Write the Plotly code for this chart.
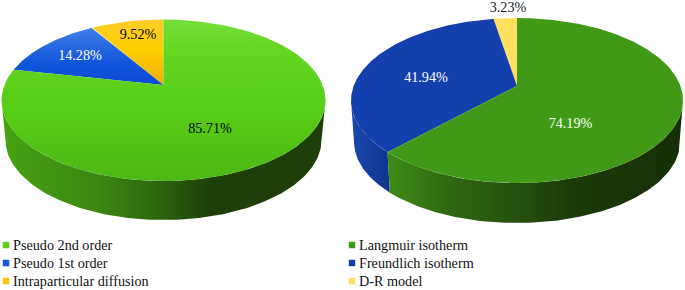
import numpy as np
import plotly.graph_objects as go

# --- data -------------------------------------------------------------
kinetic_labels = ["Pseudo 2nd order", "Pseudo 1st order", "Intraparticular diffusion"]
kinetic_values = [85.71, 14.28, 9.52]
isotherm_labels = ["Langmuir isotherm", "Freundlich isotherm", "D-R model"]
isotherm_values = [74.19, 41.94, 3.23]
kinetic_text_colors = ["black", "white", "black"]
isotherm_text_colors = ["white", "white", "#222222"]

# --- styles and layout -------------------------------------------------
SERIF = "Liberation Serif"
FONT = 14.2
kinetic_geom = dict(cx=163.5, a=162, cy=100.25, b=80.75, apex=85, bcx=163.5, ba=158, bcy=140, bb=80)
isotherm_geom = dict(cx=517, a=166, cy=100.5, b=82.5, apex=86, bcx=517, ba=163, bcy=142, bb=81)

# vertical fill gradients run from the bottom of a shape to its top
kinetic_top = [
    [[0, "#4CB814"], [0.4, "#57CC16"], [0.8, "#62D620"], [1, "#75DE3A"]],
    [[0, "#0C4CD2"], [0.4, "#1256DC"], [1, "#3F7EE8"]],
    [[0, "#F0AC08"], [0.55, "#FFD000"], [1, "#FFCB2A"]],
]
isotherm_top = ["#419A17", "#1440AE", "#FFDF5E"]
kinetic_swatch = ["#5FCF22", "#1A55D8", "#FFC410"]
isotherm_swatch = ["#3F9A18", "#1440AE", "#FFDF5E"]
kinetic_side = {0: [[0, "#46A312"], [0.3, "#3C8612"], [0.46, "#2E6C0E"], [0.64, "#1F3F09"], [1, "#1E3E08"]]}
isotherm_side = {
    0: [[0, "#3E8C16"], [0.2, "#2F6A12"], [0.44, "#25500E"], [0.63, "#1A3A08"], [1, "#152F06"]],
    1: [[0, "#1A48B0"], [1, "#10348C"]],
}
label_positions_k = [(210, 129.5), (80, 56), (138, 35)]
label_positions_i = [(570.5, 124), (426, 78), (508, 8)]

fig = go.Figure()


def boundary_angles(values, g):
    """Cumulative shares -> ellipse parameter, anti-clockwise from 12 o'clock.
    Perspective moves the disc centre to the apex, which warps the angles."""
    k = (g["cy"] - g["apex"]) / g["b"]
    p = (1 - np.sqrt(1 - k * k)) / k
    r = (1 - p) / (1 + p)
    shares = np.cumsum(list(values)[::-1]) / sum(values)
    th = np.concatenate([[0], shares]) * 2 * np.pi
    return 2 * np.arctan2(r * np.sin(th / 2), np.cos(th / 2)) % (2 * np.pi + 1e-9)


def top_xy(phi, g):
    return g["cx"] - g["a"] * np.sin(phi), g["cy"] - g["b"] * np.cos(phi)


def bot_xy(phi, g):
    return g["bcx"] - g["ba"] * np.sin(phi), g["bcy"] - g["bb"] * np.cos(phi)


def add_poly(x, y, fill, name, kind="vertical"):
    kw = dict(fillcolor=fill) if isinstance(fill, str) else dict(
        fillgradient=dict(type=kind, colorscale=fill))
    fig.add_trace(go.Scatter(x=x, y=y, mode="lines", fill="toself", line=dict(width=0),
                             hoverinfo="skip", name=name, showlegend=False, **kw))


def draw_pie(values, labels, g, top, side, text_colors, positions):
    phis = boundary_angles(values, g)
    # slices listed anti-clockwise from 12 o'clock: last value first
    idx = list(range(len(values)))[::-1]
    # rim, only the front half (phi between 90 and 270 degrees) is visible
    for j, i in enumerate(idx):
        lo, hi = max(phis[j], np.pi / 2), min(phis[j + 1], 3 * np.pi / 2)
        if hi <= lo:
            continue
        ph = np.linspace(lo, hi, 160)
        tx, ty = top_xy(ph, g)
        bx, by = bot_xy(ph, g)
        add_poly(np.concatenate([tx, bx[::-1]]), np.concatenate([ty, by[::-1]]), side[i],
                 labels[i] + " rim", "horizontal")
    # top face
    for j, i in enumerate(idx):
        ph = np.linspace(phis[j], phis[j + 1], 300)
        tx, ty = top_xy(ph, g)
        add_poly(np.concatenate([[g["cx"]], tx, [g["cx"]]]),
                 np.concatenate([[g["apex"]], ty, [g["apex"]]]), top[i], labels[i])
    # value labels
    fig.add_trace(go.Scatter(
        x=[p[0] for p in positions], y=[p[1] for p in positions], mode="text",
        text=[f"{v:.2f}%" for v in values], textposition="middle center",
        textfont=dict(family=SERIF, size=FONT, color=text_colors), cliponaxis=False,
        hoverinfo="skip", showlegend=False))


def draw_key(labels, colors, x_marker, x_text, rows):
    fig.add_trace(go.Scatter(x=[x_marker] * 3, y=rows, mode="markers",
                             marker=dict(symbol="square", size=6.5, color=colors),
                             hoverinfo="skip", showlegend=False))
    fig.add_trace(go.Scatter(x=[x_text] * 3, y=[r + 1 for r in rows], mode="text", text=labels,
                             textposition="middle right",
                             textfont=dict(family=SERIF, size=FONT, color="#111111"),
                             hoverinfo="skip", showlegend=False))


draw_pie(kinetic_values, kinetic_labels, kinetic_geom, kinetic_top,
         {0: kinetic_side[0]}, kinetic_text_colors, label_positions_k)
draw_pie(isotherm_values, isotherm_labels, isotherm_geom, isotherm_top,
         isotherm_side, isotherm_text_colors, label_positions_i)
draw_key(kinetic_labels, kinetic_swatch, 6, 13, [245, 263, 281])
draw_key(isotherm_labels, isotherm_swatch, 352, 359, [245, 263, 281])

fig.update_layout(
    width=685, height=290, margin=dict(l=0, r=0, t=0, b=0),
    paper_bgcolor="white", plot_bgcolor="white", showlegend=False,
    xaxis=dict(range=[0, 685], visible=False, fixedrange=True),
    yaxis=dict(range=[290, 0], visible=False, fixedrange=True),
)
fig.write_html("out.html", config={"displayModeBar": False},
               post_script="document.body.style.margin='0';document.documentElement.style.overflow='hidden';")
